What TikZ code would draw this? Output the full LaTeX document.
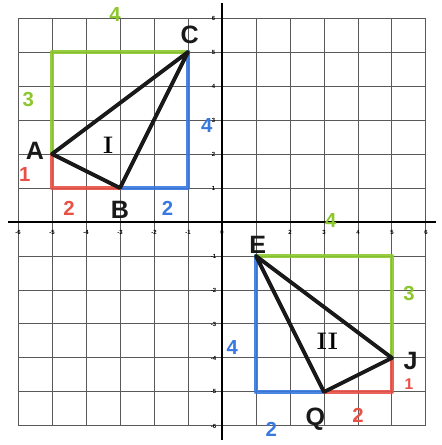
\documentclass[tikz,border=0pt]{standalone}
\usepackage{fontspec}
\setsansfont{Liberation Sans}
\definecolor{mkgreen}{RGB}{140,200,45}
\definecolor{mkblue}{RGB}{55,120,225}
\definecolor{mkred}{RGB}{232,80,70}
\tikzset{
  gridline/.style={black!65, line width=0.8pt},
  axisline/.style={black, line width=1.3pt},
  tri/.style={black!90, line width=3.2pt, line join=round, line cap=round},
  mk/.style={line width=3.6pt, line join=round, line cap=round, opacity=0.9},
  ptlabel/.style={font=\sffamily\bfseries\fontsize{21}{21}\selectfont, text=black!90, inner sep=0pt},
  numlabel/.style={font=\sffamily\bfseries\fontsize{17}{17}\selectfont, inner sep=0pt},
  roman/.style={font=\rmfamily\bfseries\fontsize{20}{20}\selectfont, inner sep=0pt},
  ticklabel/.style={font=\sffamily\bfseries\fontsize{5}{5}\selectfont, inner sep=0pt}
}
\begin{document}
\begin{tikzpicture}
\useasboundingbox[fill=white] (-6.53,-6.56) rectangle (6.47,6.53);
% grid
\foreach \i in {-6,...,6} {
  \draw[gridline] (\i,-6) -- (\i,6);
  \draw[gridline] (-6,\i) -- (6,\i);
}
\draw[axisline] (-6.3,0) -- (6.3,0);
\draw[axisline] (0,-6.4) -- (0,6.45);
% tick labels
\foreach \i in {-6,...,-1,2,3,4,5,6} \node[ticklabel] at (\i,-0.3) {\i};
\node[ticklabel] at (0,-0.3) {0};
\foreach \i in {1,...,6} \node[ticklabel] at (-0.25,\i) {\i};
\foreach \i in {-6,...,-1} \node[ticklabel] at (-0.25,\i) {\i};
% points
\coordinate (A) at (-5,2);
\coordinate (B) at (-3,1);
\coordinate (C) at (-1,5);
\coordinate (E) at (1,-1);
\coordinate (J) at (5,-4);
\coordinate (Q) at (3,-5);
% marker legs, triangle I
\draw[mk, mkgreen] (A) |- (C);
\draw[mk, mkblue] (C) |- (B);
\draw[mk, mkred] (A) |- (B);
% marker legs, triangle II
\draw[mk, mkgreen] (E) -| (J);
\draw[mk, mkblue] (E) |- (Q);
\draw[mk, mkred] (Q) -| (J);
% triangles
\draw[tri] (A) -- (B) -- (C) -- cycle;
\draw[tri] (E) -- (J) -- (Q) -- cycle;
% point labels
\node[ptlabel] (lA) at (-5.5,2.1) {A};
\node[ptlabel] (lB) at (-3,0.35) {B};
\node[ptlabel] (lC) at (-0.95,5.5) {C};
\node[ptlabel] (lE) at (1.05,-0.68) {E};
\node[ptlabel] (lJ) at (5.55,-4.1) {J};
\node[ptlabel] (lQ) at (2.75,-5.8) {Q};
\node[roman] (rI) at (-3.35,2.25) {I};
\node[roman] (rII) at (3.1,-3.5) {II};
% leg lengths, triangle I
\node[numlabel, text=mkgreen] (g4a) at (-3.15,6.1) {4};
\node[numlabel, text=mkgreen] (g3a) at (-5.7,3.6) {3};
\node[numlabel, text=mkblue] (b4a) at (-0.45,2.85) {4};
\node[numlabel, text=mkblue] (b2a) at (-1.6,0.4) {2};
\node[numlabel, text=mkred] (r1a) at (-5.8,1.4) {1};
\node[numlabel, text=mkred] (r2a) at (-4.5,0.4) {2};
% leg lengths, triangle II
\node[numlabel, text=mkgreen] (g4b) at (3.2,0.05) {4};
\node[numlabel, text=mkgreen] (g3b) at (5.5,-2.1) {3};
\node[numlabel, text=mkblue] (b4b) at (0.3,-3.7) {4};
\node[numlabel, text=mkblue] (b2b) at (1.45,-6.1) {2};
\node[numlabel, text=mkred, font=\sffamily\bfseries\fontsize{13}{13}\selectfont] (r1b) at (5.5,-4.78) {1};
\node[numlabel, text=mkred] (r2b) at (4.0,-5.7) {2};
\end{tikzpicture}
\end{document}
